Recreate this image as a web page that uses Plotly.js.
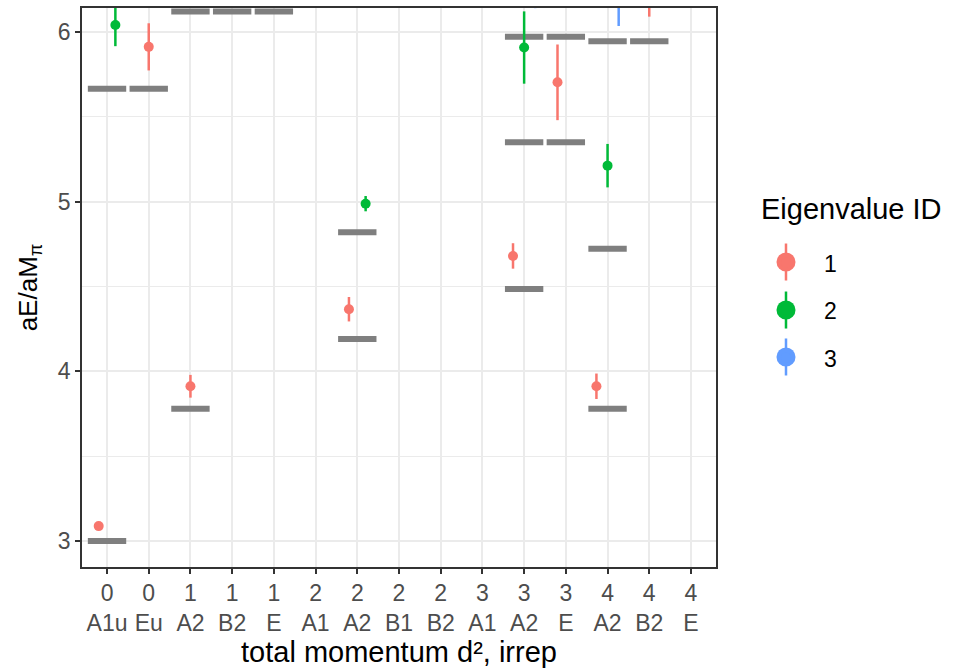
<!DOCTYPE html>
<html>
<head>
<meta charset="utf-8">
<script src="https://cdn.plot.ly/plotly-3.0.1.min.js"></script>
<style>html,body{margin:0;padding:0;background:#fff;}#chart{width:953px;height:668px;}</style>
</head>
<body>
<div id="chart"></div>
<script>
// x categories (total momentum d², irrep)
const cats = ['0 A1u','0 Eu','1 A2','1 B2','1 E','2 A1','2 A2','2 B1','2 B2','3 A1','3 A2','3 E','4 A2','4 B2','4 E'];
const momenta = ['0','0','1','1','1','2','2','2','2','3','3','3','4','4','4'];
const irreps = ['A1u','Eu','A2','B2','E','A1','A2','B1','B2','A1','A2','E','A2','B2','E'];

// non-interacting levels (grey bars)
const levelCats = ['0 A1u','0 A1u','0 Eu','1 A2','1 A2','1 B2','1 E','2 A2','2 A2','3 A2','3 A2','3 A2','3 E','3 E','4 A2','4 A2','4 A2','4 B2'];
const levelVals = [3.0,5.665,5.665,3.78,6.12,6.12,6.12,4.19,4.82,4.485,5.35,5.972,5.35,5.972,3.78,4.722,5.945,5.945];

// eigenvalue ID 1
const ev1Cats = ['0 A1u','0 Eu','1 A2','2 A2','3 A2','3 E','4 A2','4 B2'];
const ev1Vals = [3.088,5.912,3.912,4.366,4.680,5.703,3.912,6.25];
const ev1Err  = [0.02,0.139,0.067,0.072,0.075,0.223,0.075,0.16];
// eigenvalue ID 2
const ev2Cats = ['0 A1u','2 A2','3 A2','3 E','4 A2'];
const ev2Vals = [6.041,4.988,5.908,6.5,5.212];
const ev2Err  = [0.125,0.045,0.213,0.2,0.128];
// eigenvalue ID 3
const ev3Cats = ['3 A2','4 A2'];
const ev3Vals = [6.3,6.2];
const ev3Err  = [0.16,0.165];

const ids = ['1','2','3'];
const colors = ['#F8766D','#00BA38','#619CFF'];
const seriesCats = [ev1Cats, ev2Cats, ev3Cats];
const seriesVals = [ev1Vals, ev2Vals, ev3Vals];
const seriesErr = [ev1Err, ev2Err, ev3Err];

// dodge (width 0.8) like ggplot position_dodge
function dodgeX(cat, sIdx) {
  const present = [];
  seriesCats.forEach((sc, j) => { if (sc.includes(cat)) present.push(j); });
  const n = present.length, k = present.indexOf(sIdx);
  return cats.indexOf(cat) - 0.4 + 0.8 * (k + 0.5) / n;
}

const traces = [];
// grey level segments
const lx = [], ly = [];
levelCats.forEach((c, i) => {
  const xi = cats.indexOf(c);
  lx.push(xi - 0.46, xi + 0.46, null);
  ly.push(levelVals[i], levelVals[i], null);
});
traces.push({x: lx, y: ly, type: 'scatter', mode: 'lines',
  line: {color: '#7F7F7F', width: 6}, showlegend: false, hoverinfo: 'skip', cliponaxis: true});

seriesCats.forEach((sc, j) => {
  traces.push({
    x: sc.map(c => dodgeX(c, j)), y: seriesVals[j], type: 'scatter', mode: 'markers',
    name: ids[j], legendgroup: 'g' + ids[j],
    marker: {color: colors[j], size: 10},
    error_y: {type: 'data', array: seriesErr[j], color: colors[j], thickness: 2.5, width: 0},
    cliponaxis: true
  });
});

// legend key glyph (pointrange: vertical stroke + larger dot)
const legSymX = 1.1104;
const legItemY = [0.5456, 0.4597, 0.3757];
const legHalf = 0.0331;
const dotRx = 9.5 / 634, dotRy = 9.5 / 559;
const shapes = [];
legItemY.forEach((yy, j) => {
  shapes.push({type: 'line', xref: 'paper', yref: 'paper', x0: legSymX, x1: legSymX,
    y0: yy - legHalf, y1: yy + legHalf, line: {color: colors[j], width: 2.5}, layer: 'above'});
  shapes.push({type: 'circle', xref: 'paper', yref: 'paper', x0: legSymX - dotRx, x1: legSymX + dotRx,
    y0: yy - dotRy, y1: yy + dotRy, fillcolor: colors[j], line: {width: 0}, layer: 'above'});
});

const fontFam = 'Liberation Sans, Arial, sans-serif';
const layout = {
  width: 953, height: 668,
  margin: {l: 82, r: 237, t: 8, b: 101, pad: 0},
  paper_bgcolor: '#FFFFFF', plot_bgcolor: '#FFFFFF',
  font: {family: fontFam, color: '#000000'},
  xaxis: {
    range: [-0.6, 14.6], tickmode: 'array', tickvals: cats.map((c, i) => i),
    ticktext: cats.map((c, i) => momenta[i] + '<br>' + irreps[i]),
    showgrid: true, gridcolor: '#EBEBEB', gridwidth: 2, zeroline: false,
    ticks: 'outside', ticklen: 5, tickwidth: 2, tickcolor: '#333333',
    tickfont: {family: fontFam, size: 23, color: '#4D4D4D'},
    showline: true, mirror: true, linecolor: '#333333', linewidth: 1.8,
    title: {text: 'total momentum d², irrep', font: {family: fontFam, size: 29, color: '#000000'}, standoff: 6}
  },
  yaxis: {
    range: [2.847, 6.141], tickmode: 'array', tickvals: [3, 4, 5, 6],
    showgrid: true, gridcolor: '#EBEBEB', gridwidth: 2, zeroline: false,
    minor: {tickmode: 'array', tickvals: [2.5, 3.5, 4.5, 5.5], showgrid: true, gridcolor: '#EBEBEB', gridwidth: 1, ticks: ''},
    ticks: 'outside', ticklen: 5, tickwidth: 2, tickcolor: '#333333',
    tickfont: {family: fontFam, size: 23, color: '#4D4D4D'},
    showline: true, mirror: true, linecolor: '#333333', linewidth: 1.8,
    title: {text: 'aE/aM<sub>π</sub>\u00A0\u00A0', font: {family: fontFam, size: 26, color: '#000000'}, standoff: 13}
  },
  legend: {
    font: {family: fontFam, size: 23, color: '#000000'},
    x: 1.0505, xanchor: 'left', y: 0.5827, yanchor: 'top',
    tracegroupgap: 14.5, traceorder: 'grouped', itemsizing: 'trace', itemwidth: 66,
    bgcolor: 'rgba(0,0,0,0)'
  },
  annotations: [{
    text: 'Eigenvalue ID', xref: 'paper', yref: 'paper', x: 1.068, y: 0.6404,
    xanchor: 'left', yanchor: 'middle', showarrow: false,
    font: {family: fontFam, size: 29, color: '#000000'}
  }],
  shapes: shapes,
  showlegend: true
};

Plotly.newPlot('chart', traces, layout, {displayModeBar: false, staticPlot: true});
</script>
</body>
</html>
